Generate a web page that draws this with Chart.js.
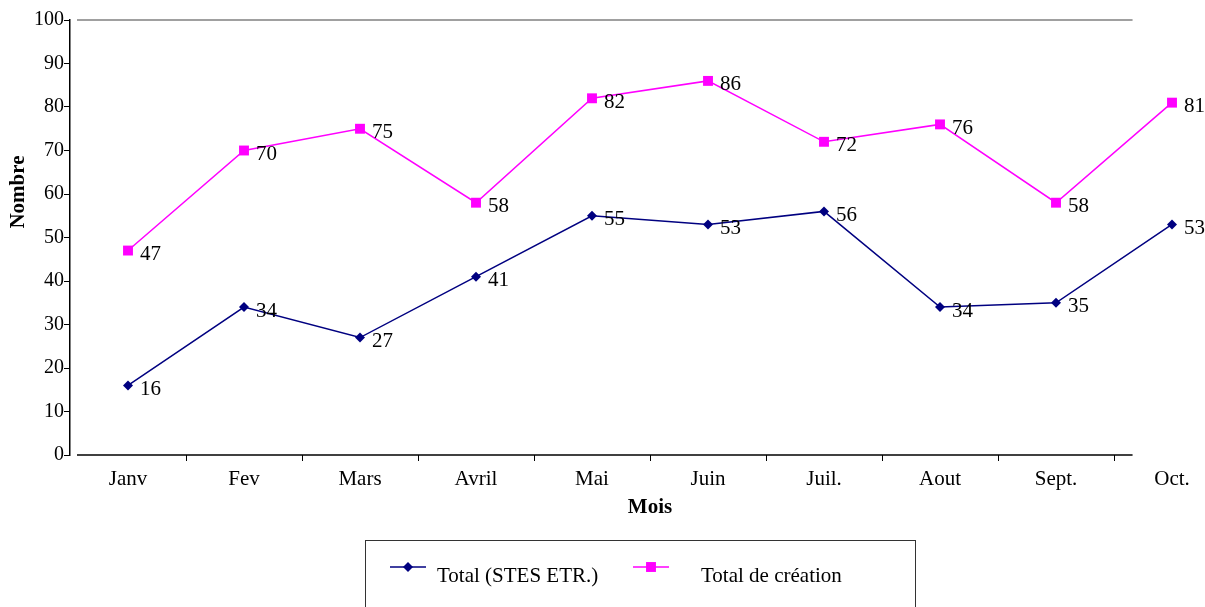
<!DOCTYPE html>
<html>
<head>
<meta charset="utf-8">
<title>Nombre par mois</title>
<script src="https://cdn.jsdelivr.net/npm/chart.js@4/dist/chart.umd.min.js"></script>
<style>
  html, body { margin: 0; padding: 0; overflow: hidden; background: #fff; }
</style>
</head>
<body>
<canvas id="moisChart" width="1240" height="607"></canvas>
<script>
const mois = ["Janv", "Fev", "Mars", "Avril", "Mai", "Juin", "Juil.", "Aout", "Sept.", "Oct."];
const totalStes = [16, 34, 27, 41, 55, 53, 56, 34, 35, 53];
const totalCreation = [47, 70, 75, 58, 82, 86, 72, 76, 58, 81];
const yTicks = [0, 10, 20, 30, 40, 50, 60, 70, 80, 90, 100];

const serif = "'Liberation Serif', 'Times New Roman', serif";

// axis line along the bottom and the single gray line at 100
const frame = {
    id: "frame",
    beforeDatasetsDraw(chart) {
        const ctx = chart.ctx;
        const x = chart.scales.x, y = chart.scales.y;
        const step = x.getPixelForValue(1) - x.getPixelForValue(0);
        const start = chart.chartArea.left + 7;
        const end = x.getPixelForValue(8) + step * 0.66;
        ctx.save();
        ctx.lineWidth = 1.5;
        ctx.strokeStyle = "#808080";
        ctx.beginPath();
        ctx.moveTo(start, y.getPixelForValue(100));
        ctx.lineTo(end, y.getPixelForValue(100));
        ctx.stroke();
        ctx.strokeStyle = "#000";
        ctx.beginPath();
        ctx.moveTo(start, chart.chartArea.bottom);
        ctx.lineTo(end, chart.chartArea.bottom);
        ctx.stroke();

        ctx.fillStyle = "#000";
        ctx.font = "bold 21px " + serif;
        ctx.textAlign = "center";
        ctx.textBaseline = "middle";
        ctx.translate(19, 192);
        ctx.rotate(-Math.PI / 2);
        ctx.fillText("Nombre", 0, 0);
        ctx.restore();
    }
};

// values written next to each point
const valeurs = {
    id: "valeurs",
    afterDatasetsDraw(chart) {
        const ctx = chart.ctx;
        ctx.save();
        ctx.fillStyle = "#000";
        ctx.font = "21px " + serif;
        ctx.textAlign = "left";
        ctx.textBaseline = "middle";
        chart.data.datasets.forEach((ds, i) => {
            chart.getDatasetMeta(i).data.forEach((pt, j) => {
                ctx.fillText(ds.data[j], pt.x + 12, pt.y + 4);
            });
        });
        ctx.restore();
    }
};

function marker(ctx, style, x, y, r) {
    ctx.beginPath();
    if (style === "rectRot") {
        ctx.moveTo(x, y - r);
        ctx.lineTo(x + r, y);
        ctx.lineTo(x, y + r);
        ctx.lineTo(x - r, y);
        ctx.closePath();
    } else {
        const s = r * Math.SQRT1_2;
        ctx.rect(x - s, y - s, 2 * s, 2 * s);
    }
    ctx.fill();
}

// boxed legend under the chart
const legende = {
    id: "legende",
    afterDraw(chart) {
        const ctx = chart.ctx;
        ctx.save();
        ctx.strokeStyle = "#333";
        ctx.lineWidth = 1;
        ctx.strokeRect(365.5, 540.5, 550, 90);
        const pos = [390, 633];
        const textX = [437, 701];
        ctx.font = "21px " + serif;
        ctx.textBaseline = "middle";
        ctx.textAlign = "left";
        chart.data.datasets.forEach((ds, i) => {
            const x0 = pos[i], yl = 567;
            ctx.strokeStyle = ds.borderColor;
            ctx.lineWidth = 1.5;
            ctx.beginPath();
            ctx.moveTo(x0, yl);
            ctx.lineTo(x0 + 36, yl);
            ctx.stroke();
            ctx.fillStyle = ds.borderColor;
            marker(ctx, ds.pointStyle, x0 + 18, yl, ds.pointRadius);
            ctx.fillStyle = "#000";
            ctx.fillText(ds.label, textX[i], 576);
        });
        ctx.restore();
    }
};

new Chart(document.getElementById("moisChart"), {
    type: "line",
    data: {
        labels: mois,
        datasets: [
            {
                label: "Total (STES ETR.)",
                data: totalStes,
                borderColor: "#000080",
                backgroundColor: "#000080",
                borderWidth: 1.5,
                pointStyle: "rectRot",
                pointRadius: 5,
                pointBorderWidth: 0,
                tension: 0,
                clip: false
            },
            {
                label: "Total de création",
                data: totalCreation,
                borderColor: "#ff00ff",
                backgroundColor: "#ff00ff",
                borderWidth: 1.5,
                pointStyle: "rect",
                pointRadius: 7,
                pointBorderWidth: 0,
                tension: 0,
                clip: false
            }
        ]
    },
    options: {
        responsive: false,
        animation: false,
        layout: { padding: { left: 0, right: 10, top: 20, bottom: 72 } },
        plugins: {
            legend: { display: false },
            tooltip: { enabled: false }
        },
        scales: {
            x: {
                offset: true,
                afterFit(scale) { scale.height = 80; },
                border: { display: false },
                grid: {
                    offset: true,
                    drawOnChartArea: false,
                    tickLength: 6,
                    color: (c) => (c.index === 0 ? "rgba(0,0,0,0)" : "#000"),
                    lineWidth: 1
                },
                ticks: {
                    color: "#000",
                    padding: 6,
                    font: { family: serif, size: 21, lineHeight: 1.2 }
                },
                title: {
                    display: true,
                    text: "Mois",
                    color: "#000",
                    padding: { top: 0, bottom: 15 },
                    font: { family: serif, size: 21, weight: "bold", lineHeight: 1.2 }
                }
            },
            y: {
                min: 0,
                max: 100,
                afterFit(scale) { scale.width = 70; },
                afterBuildTicks(scale) { scale.ticks = yTicks.map((v) => ({ value: v })); },
                border: { color: "#000", width: 1.5 },
                grid: {
                    drawOnChartArea: false,
                    tickLength: 6,
                    color: "#000",
                    lineWidth: 1
                },
                ticks: {
                    color: "#000",
                    padding: 0,
                    font: { family: serif, size: 20 }
                }
            }
        }
    },
    plugins: [frame, valeurs, legende]
});
</script>
</body>
</html>
